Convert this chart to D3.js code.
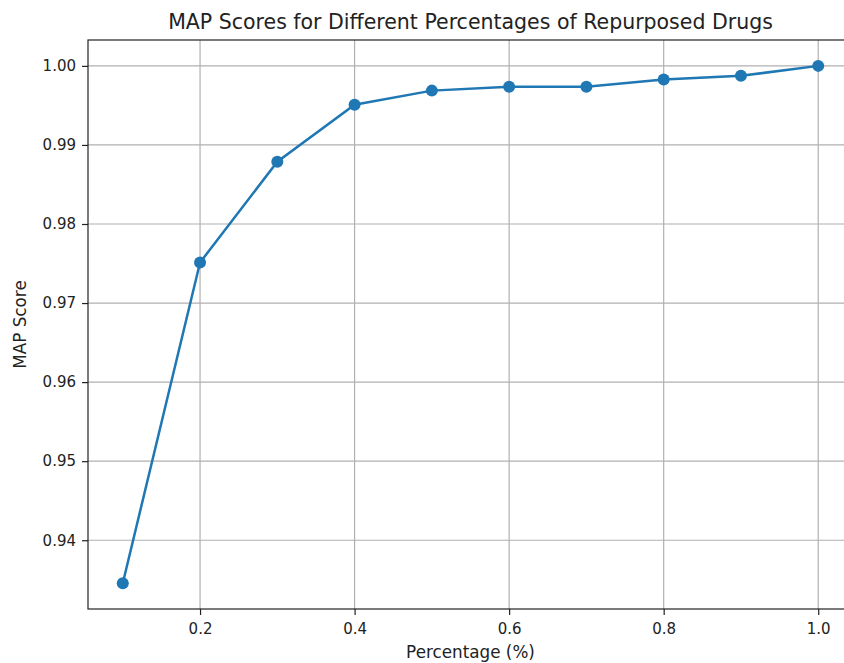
<!DOCTYPE html>
<html>
<head>
<meta charset="utf-8">
<script src="https://cdn.jsdelivr.net/npm/d3@7"></script>
<style>
  body { margin: 0; background: #fff; }
  svg text { font-family: "DejaVu Sans", sans-serif; fill: #222; }
</style>
</head>
<body>
<svg id="chart" width="844" height="663"></svg>
<script>
// percentages of repurposed drugs and the MAP score
var percentages = [0.1, 0.2, 0.3, 0.4, 0.5, 0.6, 0.7, 0.8, 0.9, 1.0];
var mapScores = [0.93457, 0.97513, 0.98788, 0.99508, 0.99687, 0.99735, 0.99735, 0.99828, 0.99874, 1.0];
var xTicks = [0.2, 0.4, 0.6, 0.8, 1.0];
var yTicks = [0.94, 0.95, 0.96, 0.97, 0.98, 0.99, 1.00];

var svg = d3.select("#chart");
var plotLeft = 88, plotRight = 853, plotTop = 40, plotBottom = 609;

var x = d3.scaleLinear().domain([0.055, 1.045]).range([plotLeft, plotRight]);
var y = d3.scaleLinear().domain([0.931303, 1.003273]).range([plotBottom, plotTop]);

// grid
svg.append("g").selectAll("line").data(xTicks).enter().append("line")
  .attr("x1", d => x(d)).attr("x2", d => x(d))
  .attr("y1", plotTop).attr("y2", plotBottom)
  .attr("stroke", "#b0b0b0").attr("stroke-width", 1.2);
svg.append("g").selectAll("line").data(yTicks).enter().append("line")
  .attr("x1", plotLeft).attr("x2", plotRight)
  .attr("y1", d => y(d)).attr("y2", d => y(d))
  .attr("stroke", "#b0b0b0").attr("stroke-width", 1.2);

// axes
var xAxis = svg.append("g").attr("transform", "translate(0," + plotBottom + ")")
  .call(d3.axisBottom(x).tickValues(xTicks).tickFormat(d3.format(".1f")).tickSizeInner(6).tickSizeOuter(0).tickPadding(8));
var yAxis = svg.append("g").attr("transform", "translate(" + plotLeft + ",0)")
  .call(d3.axisLeft(y).tickValues(yTicks).tickFormat(d3.format(".2f")).tickSizeInner(6).tickSizeOuter(0).tickPadding(6));
[xAxis, yAxis].forEach(function (a) {
  a.select(".domain").remove();
  a.selectAll(".tick line").attr("stroke", "#222").attr("stroke-width", 1.2);
  a.selectAll(".tick text").attr("font-size", "15px").attr("fill", "#222")
    .style("font-family", "DejaVu Sans, sans-serif");
});

// frame
svg.append("rect").attr("x", plotLeft).attr("y", plotTop)
  .attr("width", plotRight - plotLeft).attr("height", plotBottom - plotTop)
  .attr("fill", "none").attr("stroke", "#222").attr("stroke-width", 1.2);

// line + markers
var line = d3.line().x((d, i) => x(percentages[i])).y(d => y(d));
svg.append("path").datum(mapScores).attr("d", line)
  .attr("fill", "none").attr("stroke", "#1f77b4").attr("stroke-width", 2.5);
svg.append("g").selectAll("circle").data(mapScores).enter().append("circle")
  .attr("cx", (d, i) => x(percentages[i])).attr("cy", d => y(d))
  .attr("r", 6).attr("fill", "#1f77b4");

// labels
svg.append("text").attr("x", (plotLeft + plotRight) / 2).attr("y", 29)
  .attr("text-anchor", "middle").attr("font-size", "20.5px")
  .text("MAP Scores for Different Percentages of Repurposed Drugs");
svg.append("text").attr("x", (plotLeft + plotRight) / 2).attr("y", 658)
  .attr("text-anchor", "middle").attr("font-size", "16.8px")
  .text("Percentage (%)");
svg.append("text").attr("transform", "translate(26," + (plotTop + plotBottom) / 2 + ") rotate(-90)")
  .attr("text-anchor", "middle").attr("font-size", "16.8px")
  .text("MAP Score");
</script>
</body>
</html>
